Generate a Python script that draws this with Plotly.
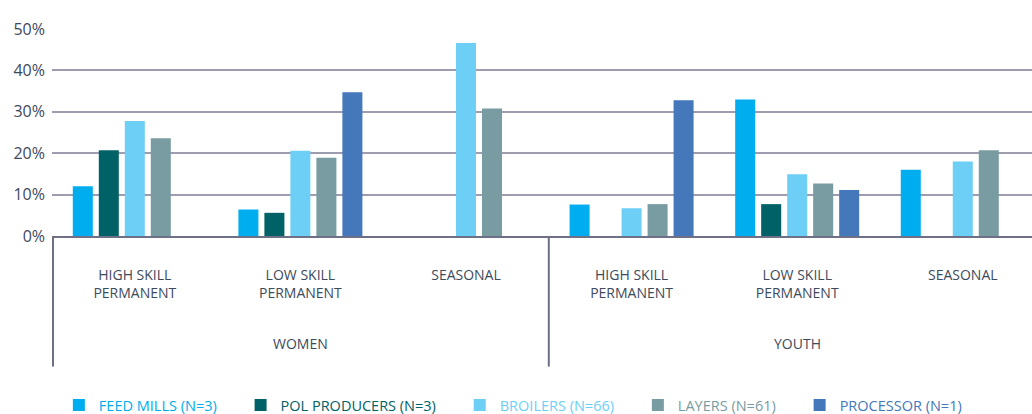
import plotly.graph_objects as go

# Employment share by job type, for women and youth, per value-chain segment
groups = ["WOMEN", "YOUTH"]
job_types = ["HIGH SKILL<br>PERMANENT", "LOW SKILL<br>PERMANENT", "SEASONAL"]
tick_labels = job_types + job_types

series_names = ["FEED MILLS (N=3)", "POL PRODUCERS (N=3)", "BROILERS (N=66)",
                "LAYERS (N=61)", "PROCESSOR (N=1)"]
series_colors = ["#00aeef", "#006266", "#6dcff6", "#789ca1", "#4577bb"]

feed_mills = [12, 6.4, None, 7.6, 33, 16]
pol_producers = [20.7, 5.6, None, None, 7.7, None]
broilers = [27.8, 20.6, 46.6, 6.7, 14.9, 18]
layers = [23.6, 18.9, 30.8, 7.7, 12.7, 20.7]
processor = [None, 34.7, None, 32.8, 11.1, None]

series_values = [feed_mills, pol_producers, broilers, layers, processor]

y_ticks = [0, 10, 20, 30, 40, 50]
y_tick_labels = [f"{v}%" for v in y_ticks]

text_color = "#3d4a5c"
axis_color = "#6e7085"
font_family = "Open Sans, Noto Sans, sans-serif"

positions = list(range(len(tick_labels)))
x_range = [-0.5, 5.418]

# trailing space after each legend label to spread the entries out
legend_pad = "&nbsp;" * 5

fig = go.Figure()
for name, color, values in zip(series_names, series_colors, series_values):
    fig.add_trace(go.Bar(
        x=positions,
        y=values,
        name=f"<span style='color:{color}'>{name}</span>{legend_pad}",
        marker=dict(color=color, line=dict(width=0)),
    ))


def to_paper(v):
    return (v - x_range[0]) / (x_range[1] - x_range[0])


# Group dividers below the axis
shapes = []
for boundary in [-0.5, 2.5, 5.5]:
    xp = to_paper(boundary)
    if xp <= 1.0:
        shapes.append(dict(
            type="line", xref="paper", yref="paper",
            x0=max(xp, 0.001), x1=max(xp, 0.001), y0=0, y1=-0.631,
            line=dict(color=axis_color, width=2),
        ))

# Outer group labels
annotations = []
for i, g in enumerate(groups):
    annotations.append(dict(
        x=1 + 3 * i, xref="x", y=-0.517, yref="paper",
        text=g, showarrow=False, xanchor="center", yanchor="middle",
        font=dict(family=font_family, size=14, color=text_color),
    ))

fig.update_layout(
    width=1032, height=414,
    margin=dict(l=52, r=0, t=29, b=178),
    paper_bgcolor="white", plot_bgcolor="white",
    barmode="group", bargap=0.215, bargroupgap=0.23,
    font=dict(family=font_family, size=14, color=text_color),
    showlegend=True,
    legend=dict(
        orientation="h", x=0.007, xanchor="left", xref="paper",
        y=9 / 414, yanchor="middle", yref="container",
        font=dict(family=font_family, size=14.5),
        itemwidth=30, traceorder="normal",
    ),
    shapes=shapes,
    annotations=annotations,
    xaxis=dict(
        range=x_range,
        tickmode="array", tickvals=positions, ticktext=tick_labels,
        ticks="", showgrid=False, zeroline=False,
        showline=True, linecolor=axis_color, linewidth=2,
        ticklabelstandoff=25,
        tickfont=dict(family=font_family, size=14, color=text_color),
        automargin=False,
    ),
    yaxis=dict(
        range=[0, 50],
        tickmode="array", tickvals=y_ticks, ticktext=y_tick_labels,
        ticks="", showline=False, zeroline=False,
        showgrid=True, gridcolor="#9d9daf", gridwidth=2,
        ticklabelstandoff=6,
        tickfont=dict(family=font_family, size=16, color=text_color),
        automargin=False,
    ),
)

fig.write_html("out.html")
